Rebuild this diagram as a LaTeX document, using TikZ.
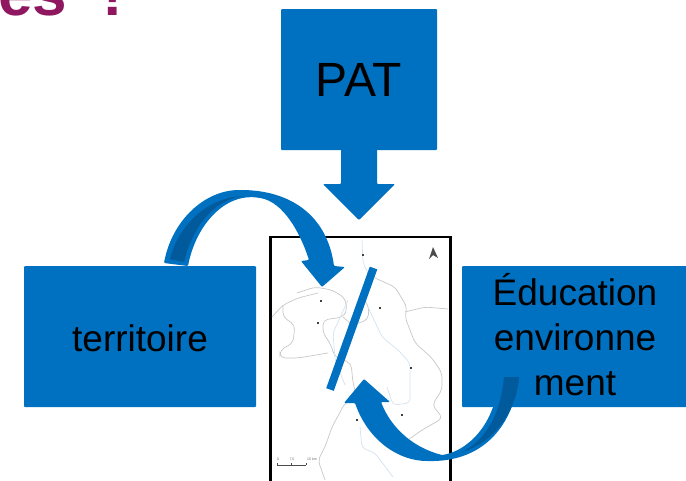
\documentclass[tikz,border=0pt]{standalone}
\usepackage{fontspec}
\setmainfont{Liberation Sans}
\definecolor{boxblue}{HTML}{0070C0}
\definecolor{darkblue}{HTML}{005A9C}
\definecolor{plum}{HTML}{8E1760}
\definecolor{roadgray}{HTML}{C8C8C8}
\definecolor{riverblue}{HTML}{D5E3F0}
\tikzset{
  bluebox/.style={fill=boxblue,rounded corners=1pt,inner sep=0pt,align=center,text=black,font=\fontsize{37}{45}\selectfont},
  blockarrow/.style={fill=boxblue,rounded corners=1pt},
  shade/.style={fill=darkblue},
  road/.style={draw=roadgray,line width=.7pt,rounded corners=5pt},
  river/.style={draw=riverblue,line width=.7pt,rounded corners=4pt},
  tiny/.style={font=\fontsize{3.5}{4}\selectfont,text=black!60,inner sep=0pt}
}
\begin{document}
\begin{tikzpicture}[x=1pt,y=-1pt]
\useasboundingbox (0,0) rectangle (686,480);
\clip (0,0) rectangle (686,480);
\node[anchor=base west,inner sep=0pt,text=plum,font=\bfseries\fontsize{62}{62}\selectfont] (title) at (-2,15.5) {es\hspace{18pt} !};

\node[bluebox,minimum width=156pt,minimum height=141pt,font=\fontsize{48}{50}\selectfont] (pat) at (359,79.5) {PAT};
\node[bluebox,minimum width=232pt,minimum height=141pt] (terr) at (140,336.5) {};
\node[inner sep=0pt,font=\fontsize{37}{45}\selectfont] (terrtext) at (140,338) {territoire};
\node[bluebox,minimum width=226pt,minimum height=141pt] (edu) at (575,336.5) {};
\node[inner sep=0pt,align=center,font=\fontsize{37}{45}\selectfont] (edutext) at (575,335) {Éducation\\environne\\ment};

% map
\node[draw=black,fill=white,line width=2.2pt,minimum width=180pt,minimum height=260pt,inner sep=0pt] (map) at (360.5,367) {};
\draw[road] (272,317) -- (283,305) -- (298,298) -- (318,293);
\draw[road] (297,293) -- (315,287) -- (332,290) -- (345,298) -- (347,310) -- (343,317) -- (323,320) -- (323,333) -- (330,343) -- (335,357) -- (351,363) -- (353,383) -- (357,398) -- (345,403) -- (332,427) -- (325,447) -- (318,460) -- (325,480);
\draw[road] (283,305) -- (283,317) -- (295,325) -- (293,343) -- (280,350) -- (280,358) -- (298,358) -- (328,353);
\draw[road] (375,278) -- (395,287) -- (407,307) -- (405,317) -- (415,343) -- (432,358) -- (442,373) -- (442,390) -- (432,405) -- (443,418) -- (422,430) -- (408,440);
\draw[road] (405,312) -- (425,307) -- (448,309);
\draw[road] (343,317) -- (352,325) -- (368,320) -- (369,307) -- (362,297);
\draw[river] (362,240) -- (363,263) -- (368,273);
\draw[river] (368,307) -- (382,337) -- (398,350) -- (410,363) -- (410,403) -- (393,405) -- (387,387);
\draw[river] (360,427) -- (362,448) -- (375,453) -- (393,477);
\draw[river] (348,300) -- (333,333) -- (335,360) -- (345,385);
\foreach \mx/\my in {363/255,321/301,318/323,380/308,411/368,357/420,402/415}
  \fill[black!75] (\mx-1.3,\my-1.3) rectangle (\mx+1.3,\my+1.3);
\fill[black!70] (433,247) -- (438,258) -- (433,255) -- (429,259) -- cycle;
\draw[black!70,line width=.6pt] (277,465) -- (306,465);
\draw[black!70,line width=.5pt] (277,463) -- (277,465) (291,463) -- (291,465) (306,463) -- (306,465);
\node[tiny] (s0) at (278,459) {0};
\node[tiny] (s1) at (292,459) {7.5};
\node[tiny] (s2) at (312,459) {15 km};

% slash
\draw[boxblue,line width=8pt] (373.5,268) -- (330,389.5);

% PAT arrow
\fill[blockarrow] (341,149) -- (377,149) -- (377,184) -- (395,184) -- (359,220) -- (323,184) -- (341,184) -- cycle;

% territoire arrow
\fill[blockarrow] (164,263) .. controls (172,220) and (205,190) .. (240,190)
  .. controls (290,190) and (327,215) .. (334,266) -- (345,267) -- (322,287) -- (301,261) -- (309,260)
  .. controls (300,232) and (283,202) .. (260,198)
  .. controls (225,192) and (196,225) .. (188,266) -- cycle;
\fill[shade] (170,259) .. controls (177,230) and (203,198) .. (243,196)
  .. controls (213,200) and (192,228) .. (184,262) -- cycle;

% education arrow
\fill[blockarrow] (355,403) .. controls (368,440) and (398,461) .. (428,461)
  .. controls (480,462) and (512,430) .. (519,377) -- (504,377)
  .. controls (503,392) and (500,402) .. (493,407)
  .. controls (483,435) and (462,452) .. (442,455)
  .. controls (415,448) and (392,430) .. (381,402) -- (390,402) -- (364,379) -- (344,403) -- cycle;
\fill[shade] (504,377) -- (519,377) .. controls (517,410) and (495,442) .. (462,452)
  .. controls (482,442) and (500,420) .. (504,377) -- cycle;
\end{tikzpicture}
\end{document}
